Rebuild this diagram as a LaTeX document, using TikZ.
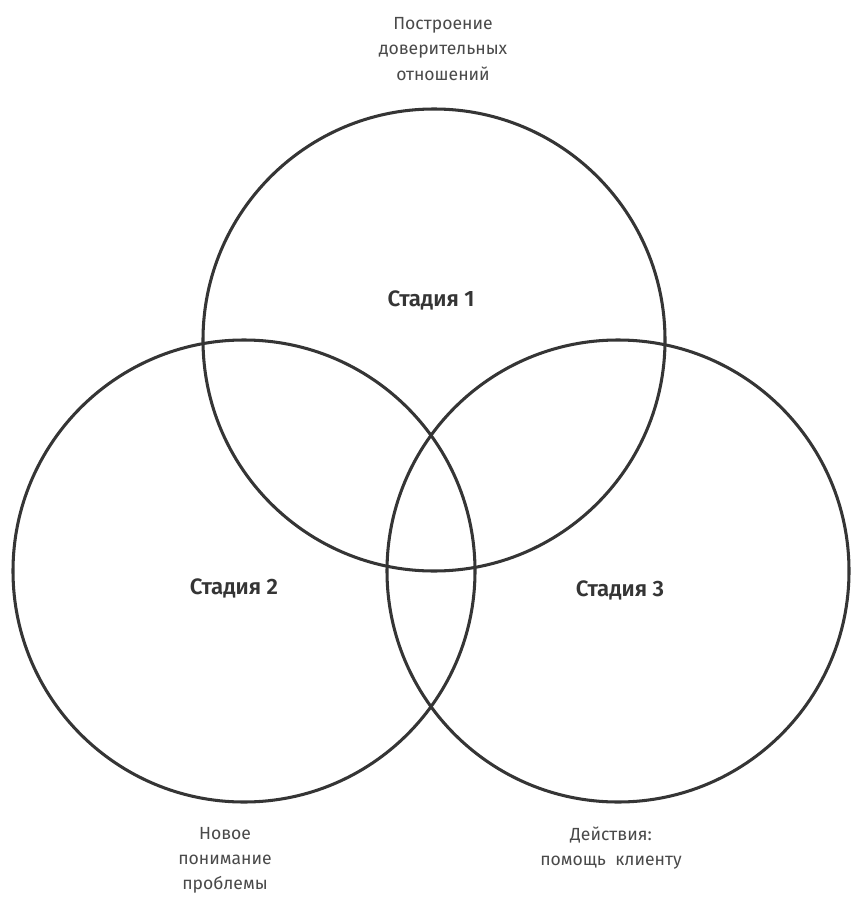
\documentclass[tikz,border=0pt]{standalone}
\usepackage{fontspec}
\setmainfont{Fira Sans}[BoldFont=* SemiBold]

\definecolor{inkgrey}{HTML}{353535}
\definecolor{labelgrey}{HTML}{4A4A4A}

\tikzset{
  stagecircle/.style={draw=inkgrey, line width=2.6pt, circle, minimum size=13.86cm, inner sep=0pt},
  stagename/.style={text=inkgrey, font={\fontsize{19}{22}\selectfont\bfseries}},
  phasetext/.style={text=labelgrey, align=center, font={\fontsize{15}{21.5}\selectfont}}
}

\begin{document}
\begin{tikzpicture}[x=0.03cm, y=-0.03cm]

\fill [white] (0,0) rectangle (851,905);
\useasboundingbox (0,0) rectangle (851,905);

% the three stages
\node [stagecircle] (circ1) at (434,340) {};
\node [stagecircle] (circ2) at (244,571) {};
\node [stagecircle] (circ3) at (618,571) {};

\node [stagename] (stage1) at (431,300) {Стадия 1};
\node [stagename] (stage2) at (234,588) {Стадия 2};
\node [stagename] (stage3) at (620,590) {Стадия 3};

% what each stage is about
\node [phasetext] (trust) at (443,49) {Построение\\доверительных\\отношений};
\node [phasetext] (insight) at (225,860) {Новое\\понимание\\проблемы};
\node [phasetext] (action) at (611,848) {Действия:\\помощь\ \ клиенту};

\end{tikzpicture}
\end{document}
